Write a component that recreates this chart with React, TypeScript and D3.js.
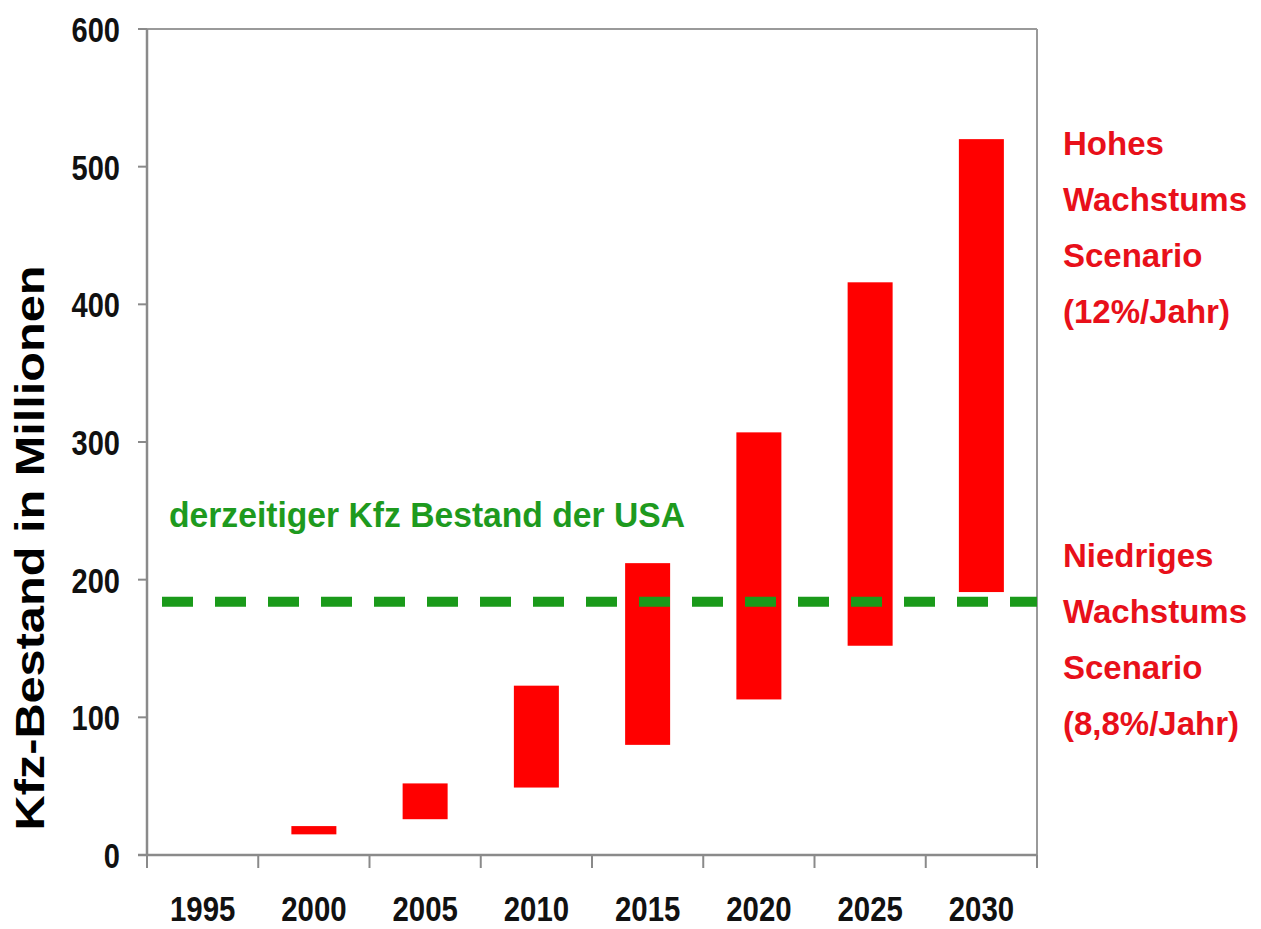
import React from "react";
import * as d3 from "d3";

const years = ["1995", "2000", "2005", "2010", "2015", "2020", "2025", "2030"];
const lowValues = [null, 15, 26, 49, 80, 113, 152, 191];
const highValues = [null, 21, 52, 123, 212, 307, 416, 520];
const usaStock = 184;
const yTicks = [0, 100, 200, 300, 400, 500, 600];
const highLabel = ["Hohes", "Wachstums", "Scenario", "(12%/Jahr)"];
const lowLabel = ["Niedriges", "Wachstums", "Scenario", "(8,8%/Jahr)"];
const usaLabel = "derzeitiger Kfz Bestand der USA";
const yTitle = "Kfz-Bestand in Millionen";

const W = 1261, H = 929;
const left = 147, right = 1037, top = 29, bottom = 855;
const font = "'Liberation Sans', Arial, sans-serif";

export default function App() {
  const x = d3.scaleBand<string>().domain(years).range([left, right]).padding(0);
  const y = d3.scaleLinear().domain([0, 600]).range([bottom, top]);
  const barW = 45;
  const boundaries = d3.range(years.length + 1).map((i) => left + i * x.step());

  return (
    <svg width={W} height={H} style={{ position: "absolute", left: 0, top: 0, background: "#fff" }}>
      <rect x={0} y={0} width={W} height={H} fill="#fff" />
      {/* frame */}
      <line x1={left} x2={right} y1={top} y2={top} stroke="#9a9a9a" strokeWidth={2} />
      <line x1={right} x2={right} y1={top} y2={bottom} stroke="#9a9a9a" strokeWidth={2} />
      {/* bars */}
      {years.map((yr, i) => {
        const lo = lowValues[i];
        const hi = highValues[i];
        if (lo == null || hi == null) return null;
        const cx = (x(yr) as number) + x.bandwidth() / 2;
        return (
          <rect key={yr} x={cx - barW / 2} y={y(hi)} width={barW} height={y(lo) - y(hi)} fill="#ff0000" />
        );
      })}
      {/* USA dashed line */}
      <line x1={162} x2={right} y1={y(usaStock)} y2={y(usaStock)} stroke="#1a9a1a" strokeWidth={10} strokeDasharray="31 22" />
      <text x={169} y={527} fill="#1e9a1e" fontFamily={font} fontWeight="bold" fontSize={35} textLength={516} lengthAdjust="spacingAndGlyphs">{usaLabel}</text>
      {/* axes */}
      <line x1={left} x2={left} y1={top} y2={bottom} stroke="#8a8a8a" strokeWidth={2.5} />
      <line x1={left - 9} x2={right} y1={bottom} y2={bottom} stroke="#8a8a8a" strokeWidth={2.5} />
      {yTicks.map((t) => (
        <g key={t}>
          <line x1={left - 9} x2={left} y1={y(t)} y2={y(t)} stroke="#8a8a8a" strokeWidth={2} />
          <text transform={`translate(120, ${y(t) + 13}) scale(0.83, 1)`} textAnchor="end" fontFamily={font} fontWeight="bold" fontSize={35} fill="#111">{t}</text>
        </g>
      ))}
      {boundaries.map((bx, i) => (
        <line key={i} x1={bx} x2={bx} y1={bottom} y2={bottom + 13} stroke="#8a8a8a" strokeWidth={2} />
      ))}
      {years.map((yr) => (
        <text key={yr} transform={`translate(${(x(yr) as number) + x.bandwidth() / 2}, 921) scale(0.84, 1)`} textAnchor="middle" fontFamily={font} fontWeight="bold" fontSize={35} fill="#111">{yr}</text>
      ))}
      {/* y title */}
      <text transform={`translate(44, 548) rotate(-90)`} textAnchor="middle" fontFamily={font} fontWeight="bold" fontSize={40} fill="#000" textLength={565} lengthAdjust="spacingAndGlyphs">{yTitle}</text>
      {/* scenario labels */}
      {highLabel.map((s, i) => (
        <text key={"h" + i} x={1063} y={155 + i * 56} fontFamily={font} fontWeight="bold" fontSize={33} fill="#e8101a">{s}</text>
      ))}
      {lowLabel.map((s, i) => (
        <text key={"l" + i} x={1063} y={567 + i * 56} fontFamily={font} fontWeight="bold" fontSize={33} fill="#e8101a">{s}</text>
      ))}
    </svg>
  );
}
